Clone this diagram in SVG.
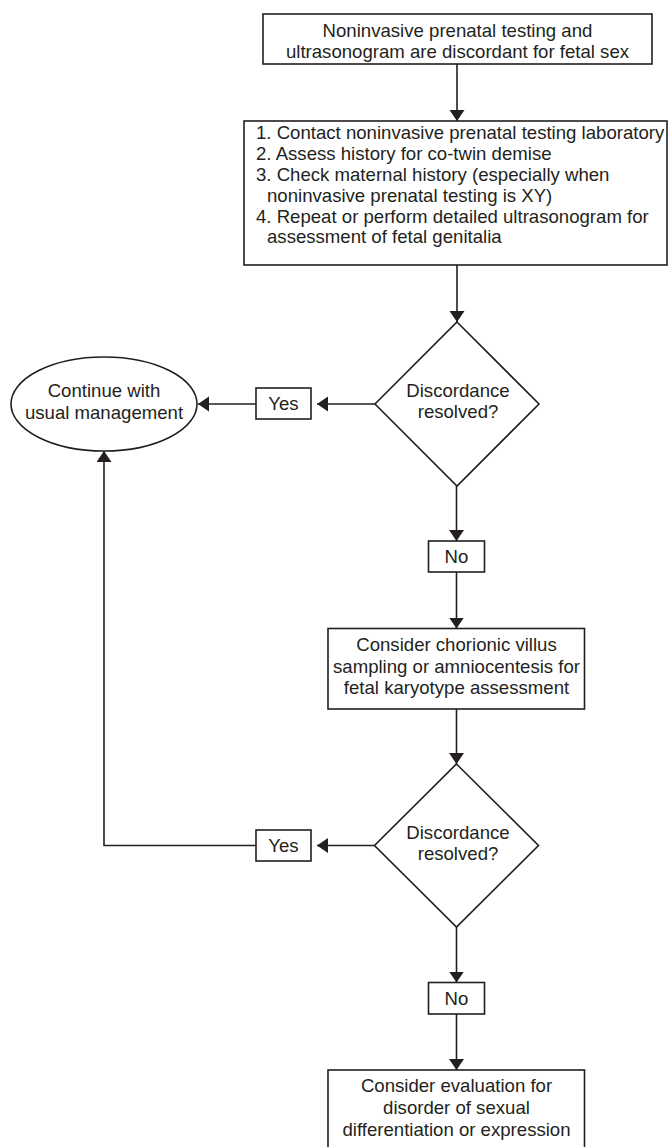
<svg xmlns="http://www.w3.org/2000/svg" width="669" height="1147" viewBox="0 0 669 1147">
<style>
.s{fill:#fff;stroke:#231f20;stroke-width:1.6}
.t{font-family:"Liberation Sans",Arial,sans-serif;font-size:18.6px;fill:#231f20}
.c{text-anchor:middle}
.l{fill:none;stroke:#231f20;stroke-width:1.6}
</style>
<defs>
<marker id="ah" markerUnits="userSpaceOnUse" markerWidth="12" markerHeight="16" refX="11" refY="7.5" orient="auto">
<path d="M0,0 L11,7.5 L0,15 Z" fill="#231f20"/>
</marker>
</defs>
<rect width="669" height="1147" fill="#fff"/>
<g id="connectors">
<path class="l" d="M457,64 V121" marker-end="url(#ah)"/>
<path class="l" d="M457,265 V322" marker-end="url(#ah)"/>
<path class="l" d="M375,404 H317" marker-end="url(#ah)"/>
<path class="l" d="M256,404 H198" marker-end="url(#ah)"/>
<path class="l" d="M456.5,486 V541" marker-end="url(#ah)"/>
<path class="l" d="M456.5,572 V628.5" marker-end="url(#ah)"/>
<path class="l" d="M456.5,709 V764" marker-end="url(#ah)"/>
<path class="l" d="M374.5,845.5 H317" marker-end="url(#ah)"/>
<path class="l" d="M256,845.5 H104 V451" marker-end="url(#ah)"/>
<path class="l" d="M456.5,927 V982.5" marker-end="url(#ah)"/>
<path class="l" d="M456.5,1014 V1070" marker-end="url(#ah)"/>
</g>
<g id="start">
<rect class="s" x="263" y="14" width="389" height="50"/>
<text class="t c" x="457.5" y="37">Noninvasive prenatal testing and</text>
<text class="t c" x="457.5" y="58">ultrasonogram are discordant for fetal sex</text>
</g>
<g id="steps">
<rect class="s" x="244" y="121" width="423" height="144"/>
<text class="t" x="256" y="139">1. Contact noninvasive prenatal testing laboratory</text>
<text class="t" x="256" y="160">2. Assess history for co-twin demise</text>
<text class="t" x="256" y="181">3. Check maternal history (especially when</text>
<text class="t" x="267" y="201.5">noninvasive prenatal testing is XY)</text>
<text class="t" x="256" y="222.5">4. Repeat or perform detailed ultrasonogram for</text>
<text class="t" x="267" y="243">assessment of fetal genitalia</text>
</g>
<g id="decision1">
<polygon class="s" points="457,322 539,404 457,486 375,404"/>
<text class="t c" x="458" y="397">Discordance</text>
<text class="t c" x="458" y="418">resolved?</text>
</g>
<g id="yes1">
<rect class="s" x="256" y="388" width="55" height="31"/>
<text class="t c" x="283.5" y="410">Yes</text>
</g>
<g id="continue">
<ellipse class="s" cx="104" cy="404" rx="93" ry="47"/>
<text class="t c" x="104" y="397">Continue with</text>
<text class="t c" x="104" y="419">usual management</text>
</g>
<g id="no1">
<rect class="s" x="428.5" y="541" width="56" height="31"/>
<text class="t c" x="456.5" y="563">No</text>
</g>
<g id="karyotype">
<rect class="s" x="328" y="628.5" width="256.5" height="80.5"/>
<text class="t c" x="456.5" y="651">Consider chorionic villus</text>
<text class="t c" x="456.5" y="672.5">sampling or amniocentesis for</text>
<text class="t c" x="456.5" y="694">fetal karyotype assessment</text>
</g>
<g id="decision2">
<polygon class="s" points="456.5,764 538.5,845.5 456.5,927 374.5,845.5"/>
<text class="t c" x="458" y="838.5">Discordance</text>
<text class="t c" x="458" y="860">resolved?</text>
</g>
<g id="yes2">
<rect class="s" x="256" y="830" width="55" height="31"/>
<text class="t c" x="283.5" y="852">Yes</text>
</g>
<g id="no2">
<rect class="s" x="428.5" y="982.5" width="56" height="31.5"/>
<text class="t c" x="456.5" y="1004.5">No</text>
</g>
<g id="dsd">
<rect class="s" x="328" y="1070" width="256.5" height="90"/>
<text class="t c" x="456.5" y="1092">Consider evaluation for</text>
<text class="t c" x="456.5" y="1114">disorder of sexual</text>
<text class="t c" x="456.5" y="1135.5">differentiation or expression</text>
</g>
</svg>
